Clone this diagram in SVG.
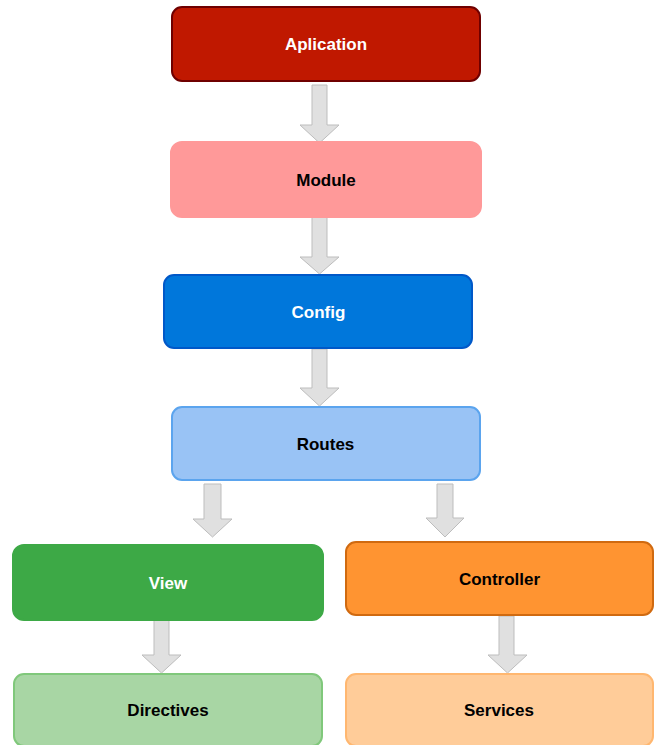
<svg xmlns="http://www.w3.org/2000/svg" width="657" height="745" viewBox="0 0 657 745">
<style>
text{font-family:"Liberation Sans",Arial,sans-serif;font-weight:bold;font-size:17px;text-anchor:middle}
.w{fill:#ffffff}.k{fill:#000000}
.arr{fill:#e0e0e0;stroke:#bdbdbd;stroke-width:1}
rect{stroke-width:2}
</style>
<rect width="657" height="745" fill="#ffffff" stroke="none"/>
<g id="connectors">
<path class="arr" d="M312,85 H327 V125 H339 L319.5,143 L300,125 H312 Z"/>
<path class="arr" d="M312,217 H327 V257 H339 L319.5,274 L300,257 H312 Z"/>
<path class="arr" d="M312,349 H327 V388 H339 L319.5,406 L300,388 H312 Z"/>
<path class="arr" d="M204,484 H221 V519 H232 L212.5,537 L193,519 H204 Z"/>
<path class="arr" d="M437,484 H453 V518 H464 L445,537 L426,518 H437 Z"/>
<path class="arr" d="M154,620 H169 V655 H181 L161.5,673 L142,655 H154 Z"/>
<path class="arr" d="M499,616 H514 V655 H527 L507.5,673 L488,655 H499 Z"/>
</g>
<g id="aplication">
<rect x="172" y="7" width="308" height="74" rx="10" fill="#C01800" stroke="#6F0000"/>
<text class="w" x="326" y="50">Aplication</text>
</g>
<g id="module">
<rect x="171" y="142" width="310" height="75" rx="11" fill="#FF9999" stroke="#FF9999"/>
<text class="k" x="326" y="186">Module</text>
</g>
<g id="config">
<rect x="164" y="275" width="308" height="73" rx="10" fill="#0077DB" stroke="#0058C8"/>
<text class="w" x="318.5" y="318">Config</text>
</g>
<g id="routes">
<rect x="172" y="407" width="308" height="73" rx="10" fill="#99C3F5" stroke="#5BA4EE"/>
<text class="k" x="325.5" y="449.5">Routes</text>
</g>
<g id="view">
<rect x="13" y="545" width="310" height="75" rx="11" fill="#3DA946" stroke="#3DA946"/>
<text class="w" x="168" y="588.5">View</text>
</g>
<g id="controller">
<rect x="346" y="542" width="307" height="73" rx="10" fill="#FF9431" stroke="#D06A10"/>
<text class="k" x="499.5" y="584.5">Controller</text>
</g>
<g id="directives">
<rect x="14" y="674" width="308" height="72" rx="10" fill="#A8D6A4" stroke="#80C87B"/>
<text class="k" x="168" y="716">Directives</text>
</g>
<g id="services">
<rect x="346" y="674" width="307" height="72" rx="10" fill="#FFCC99" stroke="#FFB770"/>
<text class="k" x="499" y="716">Services</text>
</g>
</svg>
